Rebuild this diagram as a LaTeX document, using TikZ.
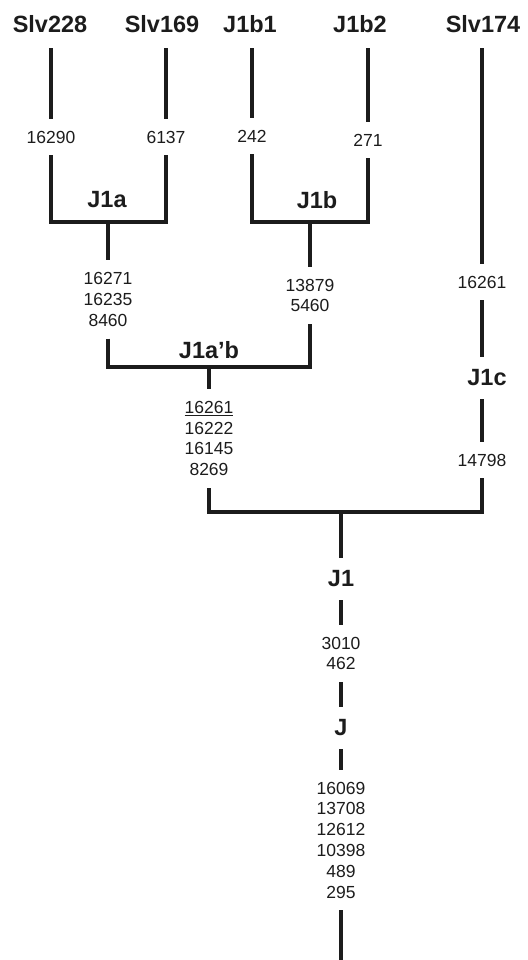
\documentclass[tikz,border=0pt]{standalone}
\usepackage{fontspec}
\setmainfont{Liberation Sans}
\usepackage{tikz}
\usetikzlibrary{positioning}
\definecolor{myink}{RGB}{28,28,28}
\tikzset{
  hapnode/.style={font=\fontsize{23.5}{23.5}\selectfont\bfseries, color=myink,
    inner xsep=2pt, inner ysep=13pt},
  leafnode/.style={hapnode, inner ysep=15.5pt},
  mutnode/.style={font=\fontsize{17.5}{20.8}\selectfont, color=myink,
    align=center, inner xsep=2pt, inner ysep=12pt},
  branch/.style={line width=3.8pt, color=myink}
}

\begin{document}
\begin{tikzpicture}[x=1pt, y=-1pt]
  \useasboundingbox (0,0) rectangle (527,960);

  % Leaves
  \node[leafnode] (Slv228) at (50,24) {Slv228};
  \node[leafnode] (Slv169) at (162,24) {Slv169};
  \node[leafnode] (J1b1) at (250,24) {J1b1};
  \node[leafnode] (J1b2) at (360,24) {J1b2};
  \node[leafnode] (Slv174) at (483,24) {Slv174};

  % Mutations below the leaves
  \node[mutnode] (mSlv228) at (51,137) {16290};
  \node[mutnode] (mSlv169) at (166,137) {6137};
  \node[mutnode] (mJ1b1) at (252,136) {242};
  \node[mutnode] (mJ1b2) at (368,140) {271};
  \node[mutnode] (mSlv174) at (482,282) {16261};

  % Inner haplogroups
  \node[hapnode] (J1a) at (107,200) {J1a};
  \node[hapnode] (J1b) at (317,200) {J1b};
  \node[hapnode] (J1ab) at (209,350) {J1a’b};
  \node[hapnode] (J1c) at (487,378) {J1c};
  \node[hapnode] (J1) at (341,579) {J1};
  \node[hapnode] (J) at (341,728) {J};

  % Mutations on the inner branches
  \node[mutnode] (mJ1a) at (108,299.5) {16271\\16235\\8460};
  \node[mutnode] (mJ1b) at (310,295.5) {13879\\5460};
  \node[mutnode] (mJ1ab) at (209,438.5) {\underline{16261}\\16222\\16145\\8269};
  \node[mutnode] (mJ1c) at (482,460) {14798};
  \node[mutnode] (mJ1) at (341,653.5) {3010\\462};
  \node[mutnode] (mJ) at (341,840) {16069\\13708\\12612\\10398\\489\\295};

  % Junctions
  \coordinate (ja) at (108,222);
  \coordinate (jb) at (310,222);
  \coordinate (jab) at (209,367);
  \coordinate (j1) at (341,512);
  \coordinate (root) at (341,960);

  % Leaf branches
  \draw[branch] (Slv228.south -| mSlv228) -- (mSlv228);
  \draw[branch] (Slv169.south -| mSlv169) -- (mSlv169);
  \draw[branch] (J1b1.south -| mJ1b1) -- (mJ1b1);
  \draw[branch] (J1b2.south -| mJ1b2) -- (mJ1b2);
  \draw[branch] (Slv174.south -| mSlv174) -- (mSlv174);

  % J1a and J1b brackets
  \draw[branch] (mSlv228) |- (ja) -| (mSlv169);
  \draw[branch] (mJ1b1) |- (jb) -| (mJ1b2);
  \draw[branch] (ja) -- (mJ1a);
  \draw[branch] (jb) -- (mJ1b);

  % J1a'b bracket
  \draw[branch] (mJ1a) |- (jab) -| (mJ1b);
  \draw[branch] (jab) -- (mJ1ab);

  % J1c branch
  \draw[branch] (mSlv174) -- (mSlv174 |- J1c.north);
  \draw[branch] (mSlv174 |- J1c.south) -- (mJ1c);

  % J1 bracket and trunk
  \draw[branch] (mJ1ab) |- (j1) -| (mJ1c);
  \draw[branch] (j1) -- (J1);
  \draw[branch] (J1) -- (mJ1);
  \draw[branch] (mJ1) -- (J);
  \draw[branch] (J) -- (mJ);
  \draw[branch] (mJ) -- (root);
\end{tikzpicture}
\end{document}
